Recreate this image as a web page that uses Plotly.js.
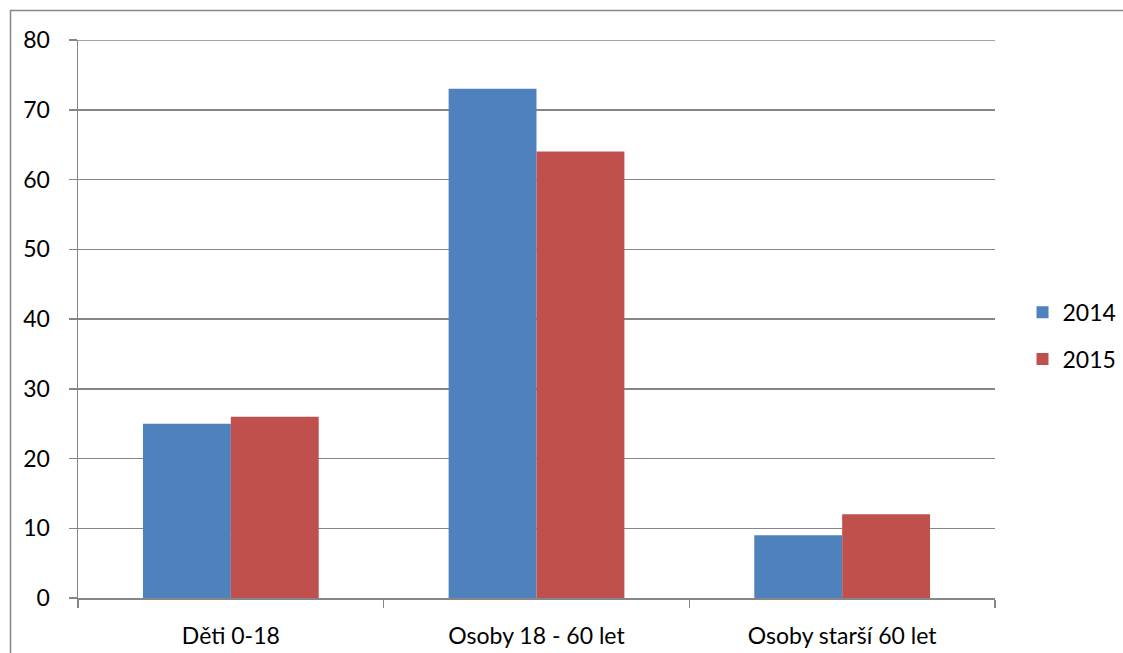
<!DOCTYPE html>
<html>
<head>
<meta charset="utf-8">
<script src="https://cdn.plot.ly/plotly-3.0.1.min.js"></script>
<style>
html,body{margin:0;padding:0;background:#fff;}
#chart{width:1123px;height:653px;}
</style>
</head>
<body>
<div id="chart"></div>
<script>
const categories = ["Děti 0-18", "Osoby 18 - 60 let", "Osoby starší 60 let"];
const values2014 = [25, 73, 9];
const values2015 = [26, 64, 12];
const seriesNames = ["2014", "2015"];
const yTicks = [0, 10, 20, 30, 40, 50, 60, 70, 80];

const grey = "#868686";
const font = {family: "Lato, 'Open Sans', sans-serif", size: 23, color: "#000"};

const traces = [
  {type: "bar", name: seriesNames[0], x: categories, y: values2014,
   marker: {color: "#4F81BD", line: {width: 0}}, legendgroup: "a"},
  {type: "bar", name: seriesNames[1], x: categories, y: values2015,
   marker: {color: "#C0504D", line: {width: 0}}, legendgroup: "b"}
];

const layout = {
  width: 1123, height: 653,
  margin: {l: 78, r: 128, t: 40, b: 55, autoexpand: false},
  paper_bgcolor: "#fff", plot_bgcolor: "#fff",
  font: font,
  barmode: "group",
  bargap: 0.425,
  bargroupgap: 0,
  showlegend: true,
  legend: {x: 1.03, xanchor: "left", y: 0.47, yanchor: "middle",
           font: font, traceorder: "grouped", tracegroupgap: 14,
           bgcolor: "rgba(0,0,0,0)"},
  xaxis: {type: "category", showline: true, linecolor: grey, linewidth: 1.5,
          ticks: "outside", tickson: "boundaries", ticklen: 8, tickcolor: grey, tickwidth: 1.5,
          showgrid: false, tickfont: font, ticklabelstandoff: 17, fixedrange: true},
  yaxis: {range: [0, 80], tickvals: yTicks, ticktext: yTicks.map(String),
          showline: true, linecolor: grey, linewidth: 1.5,
          ticks: "outside", ticklen: 8, tickcolor: grey, tickwidth: 1.5,
          showgrid: true, gridcolor: grey, gridwidth: 1.5, zeroline: false,
          tickfont: font, ticklabelstandoff: 14, fixedrange: true},
  shapes: [
    {type: "rect", xref: "paper", yref: "paper",
     x0: -0.0736, x1: 1.15, y0: -0.12, y1: 1.0529,
     line: {color: grey, width: 1.5}, fillcolor: "rgba(0,0,0,0)", layer: "below"},
    {type: "line", xref: "paper", yref: "y", x0: 0, x1: 1, y0: yTicks[yTicks.length - 1], y1: yTicks[yTicks.length - 1],
     line: {color: grey, width: 1.5}, layer: "below"}
  ]
};

Plotly.newPlot("chart", traces, layout, {displayModeBar: false, staticPlot: true});
</script>
</body>
</html>
